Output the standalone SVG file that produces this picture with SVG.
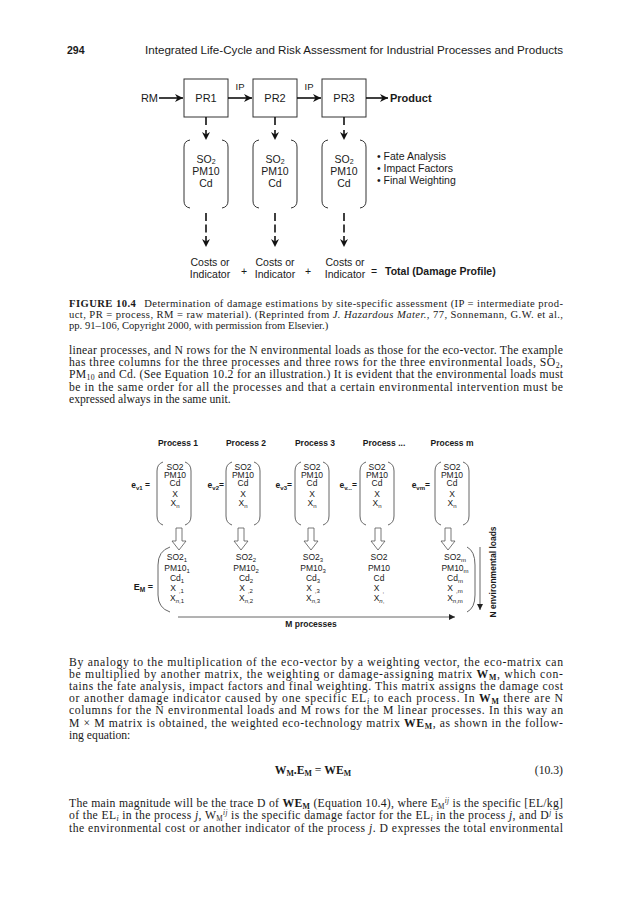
<svg xmlns="http://www.w3.org/2000/svg" width="629" height="900" viewBox="0 0 629 900">
<defs>
<marker id="ah" viewBox="0 0 10 10" refX="10" refY="5" markerWidth="9" markerHeight="8" markerUnits="userSpaceOnUse" orient="auto">
<path d="M0,0 L10,5 L0,10 L3,5 Z" fill="#111"/>
</marker>
<marker id="ahs" viewBox="0 0 10 10" refX="10" refY="5" markerWidth="7" markerHeight="6" markerUnits="userSpaceOnUse" orient="auto">
<path d="M0,0 L10,5 L0,10 Z" fill="#222"/>
</marker>
<path id="hollow" d="M-3,0 L3,0 L3,13 L7,13 L0,22 L-7,13 L-3,13 Z"/>
</defs>
<style>
.serif{font-family:"Liberation Serif","Times New Roman",serif;fill:#1a1a1a}
.body{font-size:11.7px}
.cap{font-size:10.6px}
.sans{font-family:"Liberation Sans",Arial,sans-serif;fill:#1a1a1a}
.f1{font-size:10.5px}
.f2{font-size:8.5px}
.b{font-weight:bold}
.i{font-style:italic}
.box{fill:#fff;stroke:#333;stroke-width:1}
.br{fill:none;stroke:#333;stroke-width:1}
.br2{fill:none;stroke:#555;stroke-width:0.9}
.con{fill:none;stroke:#111;stroke-width:1.6}
.ho{fill:#fff;stroke:#555;stroke-width:0.8}
.gl{fill:none;stroke:#555;stroke-width:0.9}
.mid{text-anchor:middle}
.end{text-anchor:end}
</style>
<rect width="629" height="900" fill="#fff"/>

<!-- page header -->
<g id="header">
<text class="sans b" x="67" y="54" font-size="10.5">294</text>
<text class="sans" x="145" y="54" font-size="10.5" textLength="418" lengthAdjust="spacingAndGlyphs">Integrated Life-Cycle and Risk Assessment for Industrial Processes and Products</text>
</g>

<!-- FIGURE 10.4 -->
<g id="rm"><text class="sans end" x="158" y="102" font-size="11">RM</text></g>
<g id="pr1"><rect class="box" x="184" y="79" width="44" height="38"/><text class="sans mid" x="206" y="102" font-size="11">PR1</text></g>
<g id="pr2"><rect class="box" x="253" y="79" width="44" height="38"/><text class="sans mid" x="275" y="102" font-size="11">PR2</text></g>
<g id="pr3"><rect class="box" x="322" y="79" width="44" height="38"/><text class="sans mid" x="344" y="102" font-size="11">PR3</text></g>
<g id="product"><text class="sans b" x="390" y="102" font-size="11">Product</text></g>

<g id="loads1">
<path class="br" d="M190,140 Q184,141 184,147 L184,201 Q184,207 190,208"/>
<path class="br" d="M222,140 Q228,141 228,147 L228,201 Q228,207 222,208"/>
<text class="sans f1 mid" x="206" y="162.5">SO<tspan font-size="7" dy="1.5">2</tspan></text>
<text class="sans f1 mid" x="206" y="175">PM10</text>
<text class="sans f1 mid" x="206" y="187">Cd</text>
</g>
<g id="loads2">
<path class="br" d="M259,140 Q253,141 253,147 L253,201 Q253,207 259,208"/>
<path class="br" d="M291,140 Q297,141 297,147 L297,201 Q297,207 291,208"/>
<text class="sans f1 mid" x="275" y="162.5">SO<tspan font-size="7" dy="1.5">2</tspan></text>
<text class="sans f1 mid" x="275" y="175">PM10</text>
<text class="sans f1 mid" x="275" y="187">Cd</text>
</g>
<g id="loads3">
<path class="br" d="M328,140 Q322,141 322,147 L322,201 Q322,207 328,208"/>
<path class="br" d="M360,140 Q366,141 366,147 L366,201 Q366,207 360,208"/>
<text class="sans f1 mid" x="344" y="162.5">SO<tspan font-size="7" dy="1.5">2</tspan></text>
<text class="sans f1 mid" x="344" y="175">PM10</text>
<text class="sans f1 mid" x="344" y="187">Cd</text>
</g>
<g id="steps">
<text class="sans f1" x="377" y="160">• Fate Analysis</text>
<text class="sans f1" x="377" y="172">• Impact Factors</text>
<text class="sans f1" x="377" y="184">• Final Weighting</text>
</g>
<g id="cost1">
<text class="sans f1 mid" x="210" y="266">Costs or</text>
<text class="sans f1 mid" x="210" y="278">Indicator</text>
</g>
<g id="cost2">
<text class="sans f1 mid" x="275" y="266">Costs or</text>
<text class="sans f1 mid" x="275" y="278">Indicator</text>
</g>
<g id="cost3">
<text class="sans f1 mid" x="345" y="266">Costs or</text>
<text class="sans f1 mid" x="345" y="278">Indicator</text>
</g>
<g id="total">
<text class="sans f1 mid" x="244" y="275">+</text>
<text class="sans f1 mid" x="308" y="275">+</text>
<text class="sans f1 mid" x="374" y="275">=</text>
<text class="sans f1 b" x="385" y="275">Total (Damage Profile)</text>
</g>

<g id="connectors">
<path class="con" d="M159,98 H183" marker-end="url(#ah)"/>
<path class="con" d="M228,98 H252" marker-end="url(#ah)"/>
<path class="con" d="M297,98 H321" marker-end="url(#ah)"/>
<path class="con" d="M366,98 H388" marker-end="url(#ah)"/>
<text class="sans mid" x="240" y="90" font-size="9.5">IP</text>
<text class="sans mid" x="309" y="90" font-size="9.5">IP</text>
<path class="con" d="M206,117 V140" stroke-dasharray="8 5" marker-end="url(#ah)"/>
<path class="con" d="M275,117 V140" stroke-dasharray="8 5" marker-end="url(#ah)"/>
<path class="con" d="M344,117 V140" stroke-dasharray="8 5" marker-end="url(#ah)"/>
<path class="con" d="M206,213 V247" stroke-dasharray="8 3.5" marker-end="url(#ah)"/>
<path class="con" d="M275,213 V247" stroke-dasharray="8 3.5" marker-end="url(#ah)"/>
<path class="con" d="M344,213 V247" stroke-dasharray="8 3.5" marker-end="url(#ah)"/>
</g>

<!-- caption -->
<g id="caption" class="serif cap">
<text x="69" y="307" textLength="494" lengthAdjust="spacing"><tspan class="b">FIGURE 10.4</tspan><tspan dx="8">Determination of damage estimations by site-specific assessment (IP = intermediate prod-</tspan></text>
<text x="69" y="318" textLength="494" lengthAdjust="spacing">uct, PR = process, RM = raw material). (Reprinted from <tspan class="i">J. Hazardous Mater.</tspan>, 77, Sonnemann, G.W. et al.,</text>
<text x="69" y="329">pp. 91–106, Copyright 2000, with permission from Elsevier.)</text>
</g>

<!-- paragraph 1 -->
<g id="para1" class="serif body">
<text x="69" y="354" textLength="494" lengthAdjust="spacing">linear processes, and N rows for the N environmental loads as those for the eco-vector. The example</text>
<text x="69" y="366.2" textLength="494" lengthAdjust="spacing">has three columns for the three processes and three rows for the three environmental loads, SO<tspan font-size="7.8" dy="2">2</tspan><tspan dy="-2">,</tspan></text>
<text x="69" y="378.4" textLength="494" lengthAdjust="spacing">PM<tspan font-size="7.8" dy="2">10</tspan><tspan dy="-2"> and Cd. (See Equation 10.2 for an illustration.) It is evident that the environmental loads must</tspan></text>
<text x="69" y="390.6" textLength="494" lengthAdjust="spacing">be in the same order for all the processes and that a certain environmental intervention must be</text>
<text x="69" y="402.8">expressed always in the same unit.</text>
</g>

<!-- eco-vectors / eco-matrix figure -->
<g id="headers" class="sans f2 b mid">
<text x="178" y="446">Process 1</text>
<text x="246" y="446">Process 2</text>
<text x="315" y="446">Process 3</text>
<text x="384" y="446">Process ...</text>
<text x="452" y="446">Process m</text>
</g>

<g id="ev1">
<text class="sans f2 b end" x="150" y="488">e<tspan font-size="6" dy="1.5">v1</tspan><tspan dy="-1.5"> =</tspan></text>
<path class="br2" d="M163,462 Q157,464 157,471 L157,516 Q157,523 163,525"/>
<path class="br2" d="M185,462 Q191,464 191,471 L191,516 Q191,523 185,525"/>
<g class="sans f2 mid"><text x="175" y="470">SO2</text><text x="175" y="478">PM10</text><text x="175" y="486">Cd</text><text x="175" y="497">X</text><text x="175" y="506">X<tspan font-size="6" dy="1.5">n</tspan></text></g>
</g>
<g id="ev2">
<text class="sans f2 b end" x="224" y="488">e<tspan font-size="6" dy="1.5">v2</tspan><tspan dy="-1.5">=</tspan></text>
<path class="br2" d="M232,462 Q226,464 226,471 L226,516 Q226,523 232,525"/>
<path class="br2" d="M254,462 Q260,464 260,471 L260,516 Q260,523 254,525"/>
<g class="sans f2 mid"><text x="243" y="470">SO2</text><text x="243" y="478">PM10</text><text x="243" y="486">Cd</text><text x="243" y="497">X</text><text x="243" y="506">X<tspan font-size="6" dy="1.5">n</tspan></text></g>
</g>
<g id="ev3">
<text class="sans f2 b end" x="292" y="488">e<tspan font-size="6" dy="1.5">v3</tspan><tspan dy="-1.5">=</tspan></text>
<path class="br2" d="M301,462 Q295,464 295,471 L295,516 Q295,523 301,525"/>
<path class="br2" d="M323,462 Q329,464 329,471 L329,516 Q329,523 323,525"/>
<g class="sans f2 mid"><text x="312" y="470">SO2</text><text x="312" y="478">PM10</text><text x="312" y="486">Cd</text><text x="312" y="497">X</text><text x="312" y="506">X<tspan font-size="6" dy="1.5">n</tspan></text></g>
</g>
<g id="ev4">
<text class="sans f2 b end" x="357" y="488">e<tspan font-size="6" dy="1.5">v...</tspan><tspan dy="-1.5">=</tspan></text>
<path class="br2" d="M366,462 Q360,464 360,471 L360,516 Q360,523 366,525"/>
<path class="br2" d="M388,462 Q394,464 394,471 L394,516 Q394,523 388,525"/>
<g class="sans f2 mid"><text x="377" y="470">SO2</text><text x="377" y="478">PM10</text><text x="377" y="486">Cd</text><text x="377" y="497">X</text><text x="377" y="506">X<tspan font-size="6" dy="1.5">n</tspan></text></g>
</g>
<g id="ev5">
<text class="sans f2 b end" x="430" y="488">e<tspan font-size="6" dy="1.5">vm</tspan><tspan dy="-1.5">=</tspan></text>
<path class="br2" d="M441,462 Q435,464 435,471 L435,516 Q435,523 441,525"/>
<path class="br2" d="M463,462 Q469,464 469,471 L469,516 Q469,523 463,525"/>
<g class="sans f2 mid"><text x="452" y="470">SO2</text><text x="452" y="478">PM10</text><text x="452" y="486">Cd</text><text x="452" y="497">X</text><text x="452" y="506">X<tspan font-size="6" dy="1.5">n</tspan></text></g>
</g>

<g id="em">
<text class="sans b end" x="153" y="590" font-size="9">E<tspan font-size="6.5" dy="2">M</tspan><tspan dy="-2"> =</tspan></text>
<path class="br2" d="M170,547 Q158,551 158,565 L158,595 Q158,608 170,612"/>
<path class="br2" d="M467,547 Q475,551 475,565 L475,595 Q475,608 467,612"/>
<g class="sans f2 mid">
<text x="177" y="560">SO2<tspan font-size="6" dy="1.5">1</tspan></text>
<text x="177" y="571">PM10<tspan font-size="6" dy="1.5">1</tspan></text>
<text x="177" y="581">Cd<tspan font-size="6" dy="1.5">1</tspan></text>
<text x="177" y="591">X<tspan font-size="6" dx="3" dy="1.5">,1</tspan></text>
<text x="177" y="601">X<tspan font-size="6" dy="1.5"><tspan class="i">n</tspan>,1</tspan></text>
<text x="246" y="560">SO2<tspan font-size="6" dy="1.5">2</tspan></text>
<text x="246" y="571">PM10<tspan font-size="6" dy="1.5">2</tspan></text>
<text x="246" y="581">Cd<tspan font-size="6" dy="1.5">2</tspan></text>
<text x="246" y="591">X<tspan font-size="6" dx="3" dy="1.5">,2</tspan></text>
<text x="246" y="601">X<tspan font-size="6" dy="1.5"><tspan class="i">n</tspan>,2</tspan></text>
<text x="313" y="560">SO2<tspan font-size="6" dy="1.5">3</tspan></text>
<text x="313" y="571">PM10<tspan font-size="6" dy="1.5">3</tspan></text>
<text x="313" y="581">Cd<tspan font-size="6" dy="1.5">3</tspan></text>
<text x="313" y="591">X<tspan font-size="6" dx="3" dy="1.5">,3</tspan></text>
<text x="313" y="601">X<tspan font-size="6" dy="1.5"><tspan class="i">n</tspan>,3</tspan></text>
<text x="379" y="560">SO2</text>
<text x="379" y="571">PM10</text>
<text x="379" y="581">Cd</text>
<text x="379" y="591">X<tspan font-size="6" dx="3" dy="1.5">,</tspan></text>
<text x="379" y="601">X<tspan font-size="6" dy="1.5"><tspan class="i">n</tspan>,</tspan></text>
<text x="455" y="560">SO2<tspan font-size="6" dy="1.5">m</tspan></text>
<text x="455" y="571">PM10<tspan font-size="6" dy="1.5">m</tspan></text>
<text x="455" y="581">Cd<tspan font-size="6" dy="1.5">m</tspan></text>
<text x="455" y="591">X<tspan font-size="6" dx="3" dy="1.5">,m</tspan></text>
<text x="455" y="601">X<tspan font-size="6" dy="1.5"><tspan class="i">n</tspan>,m</tspan></text>
</g>
</g>

<g id="axis-labels" class="sans f2 b">
<text class="mid" x="311" y="627">M processes</text>
<text class="mid" transform="translate(496,572) rotate(-90)">N environmental loads</text>
</g>

<g id="connectors2">
<use href="#hollow" class="ho" x="179" y="528"/>
<use href="#hollow" class="ho" x="241" y="528"/>
<use href="#hollow" class="ho" x="311" y="528"/>
<use href="#hollow" class="ho" x="378" y="528"/>
<use href="#hollow" class="ho" x="448" y="528"/>
<path class="gl" d="M178,617 H455" marker-end="url(#ahs)"/>
<path class="gl" d="M480,547 V610" marker-end="url(#ahs)"/>
</g>

<!-- paragraph 2 -->
<g id="para2" class="serif body">
<text x="69" y="666" textLength="494" lengthAdjust="spacing">By analogy to the multiplication of the eco-vector by a weighting vector, the eco-matrix can</text>
<text x="69" y="678.1" textLength="494" lengthAdjust="spacing">be multiplied by another matrix, the weighting or damage-assigning matrix <tspan class="b">W</tspan><tspan class="b" font-size="7.8" dy="2">M</tspan><tspan dy="-2">, which con-</tspan></text>
<text x="69" y="690.2" textLength="494" lengthAdjust="spacing">tains the fate analysis, impact factors and final weighting. This matrix assigns the damage cost</text>
<text x="69" y="702.3" textLength="494" lengthAdjust="spacing">or another damage indicator caused by one specific EL<tspan class="i" font-size="7.8" dy="2">i</tspan><tspan dy="-2"> to each process. In </tspan><tspan class="b">W</tspan><tspan class="b" font-size="7.8" dy="2">M</tspan><tspan dy="-2"> there are N</tspan></text>
<text x="69" y="714.4" textLength="494" lengthAdjust="spacing">columns for the N environmental loads and M rows for the M linear processes. In this way an</text>
<text x="69" y="726.5" textLength="494" lengthAdjust="spacing">M × M matrix is obtained, the weighted eco-technology matrix <tspan class="b">WE</tspan><tspan class="b" font-size="7.8" dy="2">M</tspan><tspan dy="-2">, as shown in the follow-</tspan></text>
<text x="69" y="738.6">ing equation:</text>
</g>

<g id="equation" class="serif body">
<text class="mid" x="313" y="774"><tspan class="b">W</tspan><tspan class="b" font-size="7.8" dy="2">M</tspan><tspan class="b" dy="-2">.E</tspan><tspan class="b" font-size="7.8" dy="2">M</tspan><tspan dy="-2"> = </tspan><tspan class="b">WE</tspan><tspan class="b" font-size="7.8" dy="2">M</tspan></text>
<text class="end" x="563" y="774">(10.3)</text>
</g>

<!-- paragraph 3 -->
<g id="para3" class="serif body">
<text x="69" y="807" textLength="494" lengthAdjust="spacing">The main magnitude will be the trace D of <tspan class="b">WE</tspan><tspan class="b" font-size="7.8" dy="2">M</tspan><tspan dy="-2"> (Equation 10.4), where E</tspan><tspan font-size="7.2" dy="2">M</tspan><tspan class="i" font-size="7.2" dy="-6">ij</tspan><tspan dy="4"> is the specific [EL/kg]</tspan></text>
<text x="69" y="819.4" textLength="494" lengthAdjust="spacing">of the EL<tspan class="i" font-size="7.8" dy="2">i</tspan><tspan dy="-2"> in the process </tspan><tspan class="i">j</tspan>, W<tspan font-size="7.2" dy="2">M</tspan><tspan class="i" font-size="7.2" dy="-6">ij</tspan><tspan dy="4"> is the specific damage factor for the EL</tspan><tspan class="i" font-size="7.8" dy="2">i</tspan><tspan dy="-2"> in the process </tspan><tspan class="i">j</tspan>, and D<tspan class="i" font-size="7.2" dy="-4">j</tspan><tspan dy="4"> is</tspan></text>
<text x="69" y="831.8" textLength="494" lengthAdjust="spacing">the environmental cost or another indicator of the process <tspan class="i">j</tspan>. D expresses the total environmental</text>
</g>
</svg>
